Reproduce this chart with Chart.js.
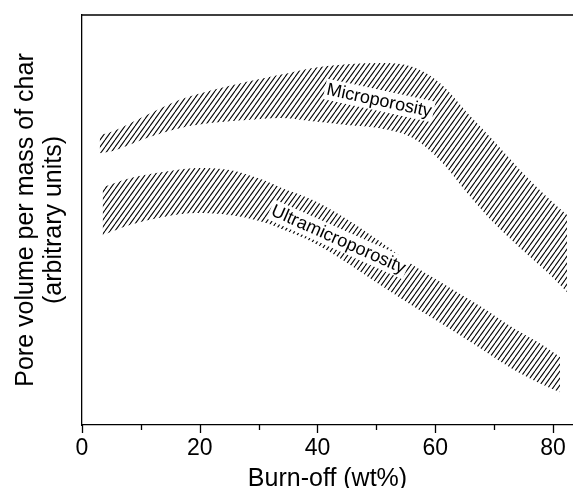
<!DOCTYPE html>
<html>
<head>
<meta charset="utf-8">
<script src="https://cdn.jsdelivr.net/npm/chart.js@4.4.1/dist/chart.umd.min.js"></script>
<style>
  html, body { margin: 0; padding: 0; background: #fff; }
  #wrap { width: 573px; height: 488px; }
</style>
</head>
<body>
<div id="wrap"><canvas id="pore"></canvas></div>
<script>
// burn-off (wt%) sampled along each band
var xMicro = [3, 5.2, 11, 16.6, 22.2, 28, 33.6, 39.2, 45, 50.6, 56.2, 60.8, 65.9, 69.8, 74.4, 79, 82.4];
var microUpper = [70.7, 71.6, 75.6, 79.3, 81.7, 83.7, 85.4, 87.1, 88.0, 88.3, 87.3, 83.4, 75.4, 69.5, 62.2, 55.6, 51.2];
var microLower = [66.3, 66.8, 70.0, 72.4, 73.7, 74.4, 74.9, 74.1, 73.2, 72.4, 70.0, 64.6, 55.8, 49.5, 43.2, 37.3, 32.4];

var xUltra = [3.5, 8.1, 13.7, 19.5, 25.1, 30.7, 33.6, 39.2, 45, 50.6, 56.2, 62, 67.6, 73.2, 79, 81.2];
var ultraUpper = [58.0, 60.2, 61.7, 62.7, 62.2, 59.8, 58.0, 54.9, 50.2, 44.8, 39.0, 33.9, 29.0, 23.7, 18.8, 16.6];
var ultraLower = [46.3, 48.8, 50.7, 51.7, 51.2, 49.5, 48.0, 44.6, 39.6, 34.2, 29.0, 23.9, 18.8, 13.6, 9.3, 8.0];

var tickValues = [0, 20, 40, 60, 80];
var minorTicks = [10, 30, 50, 70];

// band names written along the bands: text, x, y, angle (deg)
var bandNames = ['Microporosity', 'Ultramicroporosity'];
var nameX = [50.5, 43.6];
var nameY = [79.3, 45.4];
var nameAngle = [12, 24];

var FONT = '"Liberation Sans", Arial, Helvetica, sans-serif';

function hatch() {
    var c = document.createElement('canvas');
    c.width = 5;
    c.height = 7;
    var g = c.getContext('2d');
    g.strokeStyle = '#000';
    g.lineWidth = 1.1;
    for (var k = -1; k <= 1; k++) {
        g.beginPath();
        g.moveTo(k * 5, 7);
        g.lineTo(k * 5 + 5, 0);
        g.stroke();
    }
    return g.createPattern(c, 'repeat');
}

function pts(xs, ys) {
    return xs.map(function (x, i) { return { x: x, y: ys[i] }; });
}

function edge(data, fill) {
    return {
        data: data,
        borderWidth: 0,
        pointRadius: 0,
        cubicInterpolationMode: 'monotone',
        fill: fill,
        backgroundColor: fill ? hatch() : 'transparent'
    };
}

// axis frame: tick marks under the x axis and the top line
var frame = {
    id: 'frame',
    afterDraw: function (chart) {
        var ctx = chart.ctx, a = chart.chartArea, xs = chart.scales.x;
        ctx.save();
        ctx.strokeStyle = '#000';
        ctx.lineWidth = 1.3;
        ctx.beginPath();
        ctx.moveTo(a.left, a.top);
        ctx.lineTo(a.right, a.top);
        tickValues.concat(minorTicks).forEach(function (v) {
            var px = Math.round(xs.getPixelForValue(v)) + 0.5;
            var len = minorTicks.indexOf(v) >= 0 ? 5 : 8;
            ctx.moveTo(px, a.bottom);
            ctx.lineTo(px, a.bottom + len);
        });
        ctx.stroke();
        ctx.restore();
    }
};

var bandLabels = {
    id: 'bandLabels',
    afterDatasetsDraw: function (chart) {
        var ctx = chart.ctx, xs = chart.scales.x, ys = chart.scales.y;
        ctx.save();
        ctx.font = '18px ' + FONT;
        ctx.textAlign = 'center';
        ctx.textBaseline = 'middle';
        bandNames.forEach(function (t, i) {
            var w = ctx.measureText(t).width;
            ctx.save();
            ctx.translate(xs.getPixelForValue(nameX[i]), ys.getPixelForValue(nameY[i]));
            ctx.rotate(nameAngle[i] * Math.PI / 180);
            ctx.fillStyle = '#fff';
            ctx.fillRect(-w / 2 - 2, -10, w + 4, 21);
            ctx.fillStyle = '#000';
            ctx.fillText(t, 0, 1);
            ctx.restore();
        });
        ctx.restore();
    }
};

var chart = new Chart(document.getElementById('pore').getContext('2d'), {
    type: 'line',
    data: {
        datasets: [
            edge(pts(xMicro, microLower), false),
            edge(pts(xMicro, microUpper), '-1'),
            edge(pts(xUltra, ultraLower), false),
            edge(pts(xUltra, ultraUpper), '-1')
        ]
    },
    options: {
        responsive: true,
        maintainAspectRatio: false,
        animation: false,
        layout: { padding: { top: 15, right: 0, left: 0, bottom: 0 } },
        plugins: { legend: { display: false }, tooltip: { enabled: false } },
        scales: {
            x: {
                type: 'linear',
                min: 0,
                max: 83.4,
                afterBuildTicks: function (s) {
                    s.ticks = tickValues.map(function (v) { return { value: v }; });
                },
                afterFit: function (s) { s.height = 63; },
                grid: { display: false },
                border: { display: true, color: '#000', width: 1.3 },
                ticks: {
                    color: '#000',
                    padding: 2,
                    maxRotation: 0,
                    font: { family: FONT, size: 23 }
                },
                title: {
                    display: true,
                    text: 'Burn-off (wt%)',
                    color: '#000',
                    padding: { top: 0, bottom: -4 },
                    font: { family: FONT, size: 25, lineHeight: 1.0 }
                }
            },
            y: {
                min: 0,
                max: 100,
                afterFit: function (s) { s.width = 82; },
                grid: { display: false },
                border: { display: true, color: '#000', width: 1.3 },
                ticks: { display: false },
                title: {
                    display: true,
                    text: ['Pore volume per mass of char', '(arbitrary units)'],
                    color: '#000',
                    padding: { top: 12, bottom: 0 },
                    font: { family: FONT, size: 25, lineHeight: 1.12 }
                }
            }
        }
    },
    plugins: [frame, bandLabels]
});
</script>
</body>
</html>
